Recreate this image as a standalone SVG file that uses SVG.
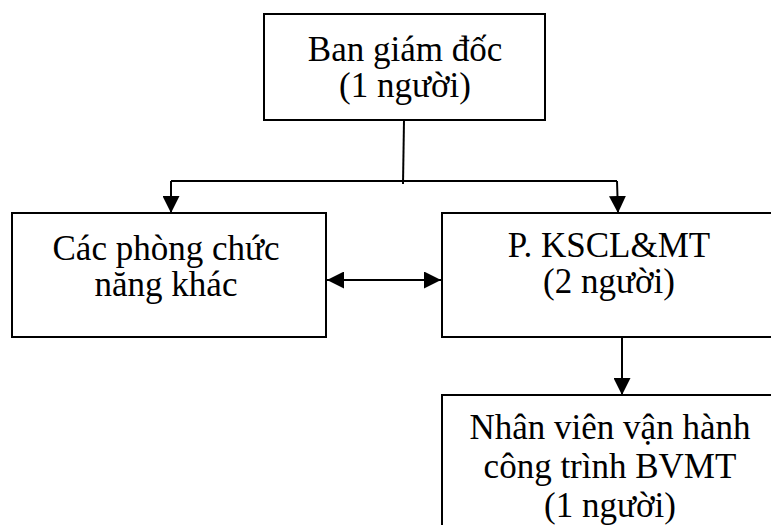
<svg xmlns="http://www.w3.org/2000/svg" width="771" height="525" viewBox="0 0 771 525">
  <style>
    .box { fill: #ffffff; stroke: #000000; stroke-width: 2; }
    .line { fill: none; stroke: #000000; stroke-width: 2; }
    .label { font-family: "Liberation Serif", "Times New Roman", serif; font-size: 35px; fill: #000000; text-anchor: middle; }
  </style>
  <defs>
    <marker id="head" viewBox="0 0 16 16" refX="16" refY="8" markerWidth="17" markerHeight="17" markerUnits="userSpaceOnUse" orient="auto-start-reverse">
      <path d="M0,0 L16,8 L0,16 Z" fill="#000000"/>
    </marker>
  </defs>
  <rect width="771" height="525" fill="#ffffff"/>

  <g id="connectors">
    <path class="line" d="M404,120 L403,184"/>
    <path class="line" d="M171,181 L617,181"/>
    <path class="line" d="M171,181 L171,213" marker-end="url(#head)"/>
    <path class="line" d="M617,181 L618,213" marker-end="url(#head)"/>
    <path class="line" d="M327,280 L441,280" marker-start="url(#head)" marker-end="url(#head)"/>
    <path class="line" d="M622,338 L622,395" marker-end="url(#head)"/>
  </g>

  <g id="ban-giam-doc">
    <rect class="box" x="264" y="14" width="281" height="106"/>
    <text class="label" x="405" y="61">Ban giám đốc</text>
    <text class="label" x="405" y="97">(1 người)</text>
  </g>

  <g id="cac-phong-chuc-nang">
    <rect class="box" x="12" y="213" width="314" height="124"/>
    <text class="label" x="166" y="260">Các phòng chức</text>
    <text class="label" x="166" y="296">năng khác</text>
  </g>

  <g id="p-kscl-mt">
    <rect class="box" x="442" y="213" width="340" height="124"/>
    <text class="label" x="609" y="257">P. KSCL&amp;MT</text>
    <text class="label" x="609" y="293">(2 người)</text>
  </g>

  <g id="nhan-vien-van-hanh">
    <rect class="box" x="442" y="395" width="340" height="140"/>
    <text class="label" x="610" y="439">Nhân viên vận hành</text>
    <text class="label" x="610" y="478">công trình BVMT</text>
    <text class="label" x="610" y="517">(1 người)</text>
  </g>
</svg>
